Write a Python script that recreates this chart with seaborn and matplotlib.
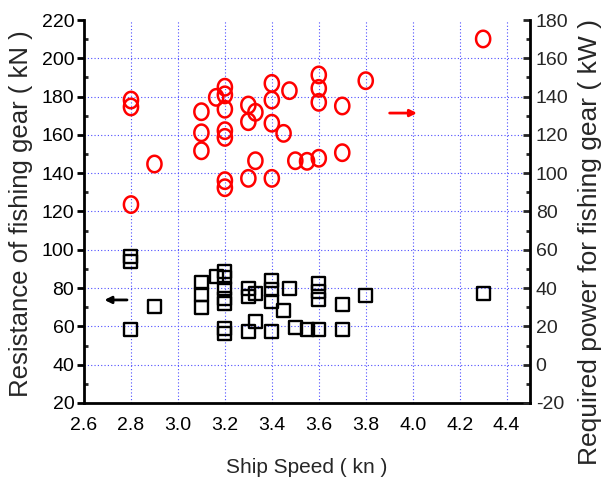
import numpy as np
import pandas as pd
import matplotlib
matplotlib.use("Agg")
import matplotlib.pyplot as plt
from matplotlib.path import Path
from matplotlib.ticker import MultipleLocator
import seaborn as sns

# --- data ---
speed_res = [2.8, 2.8, 2.8, 2.9, 3.1, 3.1, 3.1, 3.163, 3.2, 3.2, 3.2, 3.2, 3.2, 3.2, 3.2,
             3.3, 3.3, 3.3, 3.33, 3.33, 3.4, 3.4, 3.4, 3.4, 3.45, 3.475, 3.5, 3.55,
             3.6, 3.6, 3.6, 3.6, 3.7, 3.7, 3.8, 4.3]
resistance = [96.4, 93.8, 58.5, 70.3, 82.8, 76.4, 70.0, 86.0, 88.6, 85.6, 79.9, 74.7, 72.1, 59.0, 56.4,
              79.9, 75.5, 57.2, 77.3, 62.5, 84.2, 79.0, 72.9, 57.2, 68.2, 79.9, 59.3, 58.5,
              82.5, 78.1, 73.8, 58.5, 71.2, 58.5, 76.0, 77.3]

speed_pow = [2.8, 2.8, 2.8, 2.9, 3.1, 3.1, 3.1, 3.163, 3.2, 3.2, 3.2, 3.2, 3.2, 3.2, 3.2,
             3.3, 3.3, 3.3, 3.33, 3.33, 3.4, 3.4, 3.4, 3.4, 3.45, 3.475, 3.5, 3.55,
             3.6, 3.6, 3.6, 3.6, 3.7, 3.7, 3.8, 4.3]
power = [138.2, 134.6, 83.6, 104.8, 132.1, 121.1, 111.7, 139.6, 144.9, 140.9, 133.4, 122.2, 118.7, 96.1, 92.4,
         135.6, 126.9, 97.3, 131.8, 106.5, 146.9, 138.2, 126.1, 97.3, 120.8, 143.1, 106.5, 106.2,
         151.3, 144.3, 137.0, 107.8, 135.1, 110.7, 148.3, 170.1]

xticks = [2.6, 2.8, 3.0, 3.2, 3.4, 3.6, 3.8, 4.0, 4.2, 4.4]
left_ticks = [20, 40, 60, 80, 100, 120, 140, 160, 180, 200, 220]
right_ticks = [-20, 0, 20, 40, 60, 80, 100, 120, 140, 160, 180]

df_res = pd.DataFrame({"speed": speed_res, "resistance": resistance})
df_pow = pd.DataFrame({"speed": speed_pow, "power": power})

sns.set_style("white")
plt.rcParams["font.family"] = ["Liberation Sans Narrow", "Liberation Sans", "DejaVu Sans"]
plt.rcParams["axes.unicode_minus"] = False

fig = plt.figure(figsize=(6.01, 4.82), dpi=100)
ax = fig.add_axes([0.1398, 0.164, 0.882 - 0.1398, 0.9585 - 0.164])
ax2 = ax.twinx()

# ellipse marker (slightly taller than wide)
t = np.linspace(0, 2 * np.pi, 60)
ell = Path(np.column_stack([0.86 * np.cos(t), np.sin(t)]), closed=True)

sns.scatterplot(data=df_res, x="speed", y="resistance", ax=ax, marker="s", s=88,
                facecolor="none", edgecolor="black", linewidth=1.7, zorder=3)
sns.scatterplot(data=df_pow, x="speed", y="power", ax=ax2, marker=ell, s=140,
                facecolor="none", edgecolor="red", linewidth=1.8, zorder=3)

ax.set_xlim(2.6, 4.5)
ax.set_ylim(20, 220)
ax2.set_ylim(-20, 180)
ax.set_xticks(xticks)
ax.set_xticklabels([f"{v:.1f}" for v in xticks])
ax.set_yticks(left_ticks)
ax2.set_yticks(right_ticks)
ax.xaxis.set_minor_locator(MultipleLocator(0.1))
ax.yaxis.set_minor_locator(MultipleLocator(10))
ax2.yaxis.set_minor_locator(MultipleLocator(10))

# grid
gcol = "#4d4dff"
for xv in xticks[1:]:
    ax.axvline(xv, color=gcol, ls=(0, (1, 2)), lw=0.8, zorder=1)
for yv in left_ticks[1:-1]:
    ax.axhline(yv, color=gcol, ls=(0, (1, 2)), lw=0.8, zorder=1)

for a in (ax, ax2):
    a.spines["top"].set_visible(False)
    for s in ("left", "right", "bottom"):
        a.spines[s].set_linewidth(2)
        a.spines[s].set_color("black")
ax.spines["right"].set_visible(False)
ax2.spines["left"].set_visible(False)
ax2.spines["bottom"].set_visible(False)

ax.tick_params(axis="both", which="major", direction="out", length=5, width=2,
               labelsize=14, colors="black", pad=2)
ax.tick_params(axis="both", which="minor", direction="in", length=3, width=2)
ax.tick_params(axis="x", which="major", pad=5)
ax2.tick_params(axis="y", which="major", direction="in", length=5, width=2,
                labelsize=14, pad=4)
ax2.tick_params(axis="y", which="minor", direction="in", length=3, width=2)

ax.set_xlabel("Ship Speed ( kn )", family=["Liberation Sans", "DejaVu Sans"], size=15)
ax.xaxis.set_label_coords(0.5, -0.145)
ax.set_ylabel("Resistance of fishing gear ( kN )", rotation=90, va="center",
              family=["Liberation Sans", "DejaVu Sans"], size=18.5)
ax.yaxis.set_label_coords(-0.142, 0.495)
ax2.set_ylabel("Required power for fishing gear ( kW )", rotation=90, va="center",
               family=["Liberation Sans", "DejaVu Sans"], size=19)
ax2.yaxis.set_label_coords(1.135, 0.42)

# arrows
ax2.annotate("", xy=(4.03, 131.4), xytext=(3.89, 131.4),
             arrowprops=dict(arrowstyle="-|>", color="red", lw=2, mutation_scale=10))
ax.annotate("", xy=(2.675, 73.8), xytext=(2.795, 73.8),
            arrowprops=dict(arrowstyle="-|>", color="black", lw=2, mutation_scale=10))

fig.savefig("out.png", dpi=100)
